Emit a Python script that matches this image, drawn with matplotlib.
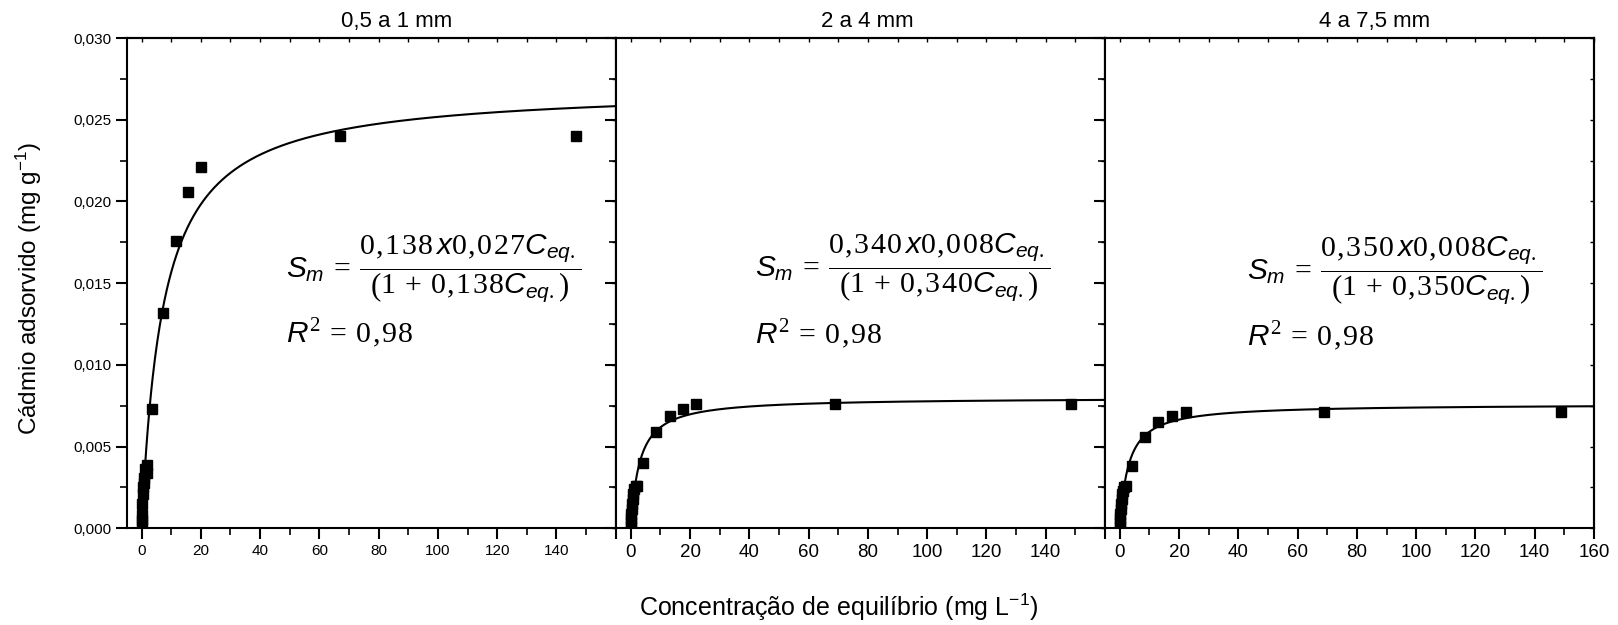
import numpy as np
import matplotlib
matplotlib.use('Agg')
import matplotlib.pyplot as plt
from matplotlib.ticker import MultipleLocator, FuncFormatter, NullLocator

plt.rcParams['font.family'] = ['Liberation Sans', 'DejaVu Sans']
plt.rcParams['mathtext.fontset'] = 'custom'
plt.rcParams['mathtext.rm'] = 'Liberation Serif'
plt.rcParams['mathtext.it'] = 'Liberation Sans:italic'
plt.rcParams['mathtext.sf'] = 'Liberation Sans'
plt.rcParams['mathtext.bf'] = 'Liberation Sans:bold'

# ---------------------------------------------------------------------------
# data
# ---------------------------------------------------------------------------
titles = ['0,5 a 1 mm', '2 a 4 mm', '4 a 7,5 mm']

# equilibrium concentration (mg L-1)
ceq_1 = [0.05, 0.1, 0.15, 0.3, 0.4, 0.5, 0.7, 0.9, 1.3, 1.8, 2.0, 3.7, 7.4, 11.7, 15.7, 20.1, 66.9, 146.7]
ceq_2 = [0.02, 0.05, 0.1, 0.2, 0.3, 0.45, 0.6, 0.8, 1.1, 1.6, 2.2, 4.1, 8.6, 13.1, 17.5, 22.1, 68.8, 148.4]
ceq_3 = [0.02, 0.05, 0.1, 0.2, 0.3, 0.45, 0.6, 0.8, 1.1, 1.5, 2.0, 4.0, 8.5, 13.0, 17.5, 22.2, 69.0, 149.0]

# cadmium adsorbed (mg g-1)
sads_1 = [0.0002, 0.0005, 0.0008, 0.0015, 0.0021, 0.0025, 0.0028, 0.0031, 0.0036, 0.0039, 0.0034,
          0.0073, 0.0132, 0.0176, 0.0206, 0.0221, 0.0240, 0.0240]
sads_2 = [0.0001, 0.0003, 0.0006, 0.0009, 0.0012, 0.0015, 0.0018, 0.0021, 0.0024, 0.0026, 0.0026,
          0.0040, 0.0059, 0.0069, 0.0073, 0.0076, 0.0076, 0.0076]
sads_3 = [0.0001, 0.0003, 0.0006, 0.0009, 0.0012, 0.0015, 0.0018, 0.0021, 0.0023, 0.0025, 0.0026,
          0.0038, 0.0056, 0.0065, 0.0069, 0.0071, 0.0071, 0.0071]

# Langmuir fit: S = K*b*C / (1 + K*C)
fit_k = [0.138, 0.340, 0.350]
fit_b = [0.0270, 0.0080, 0.0076]

eq_k_txt = ['0,138', '0,340', '0,350']
eq_b_txt = ['0,027', '0,008', '0,008']
r2_txt = ['0,98', '0,98', '0,98']

ceq = [ceq_1, ceq_2, ceq_3]
sads = [sads_1, sads_2, sads_3]


def spaced(num):
    # Origin-style letter spaced numbers for mathtext
    parts = ['{,}' if ch == ',' else ch for ch in num]
    return r'\hspace{0.06}'.join(parts)


# ---------------------------------------------------------------------------
# figure
# ---------------------------------------------------------------------------
W, H = 1618, 625
fig = plt.figure(figsize=(W / 100, H / 100), dpi=100)

ax_left = [126.7, 616, 1105]
ax_w = 489
ax_top, ax_bot = 38, 528.3

title_x = [0.553, 0.513, 0.551]
eq_pos = [(48.7, 0.0159, 0.01134), (42.0, 0.0160, 0.01132), (42.9, 0.0158, 0.01116)]
tick_fs = [11, 13.5, 13.5]

for i in range(3):
    ax = fig.add_axes([ax_left[i] / W, 1 - ax_bot / H, ax_w / W, (ax_bot - ax_top) / H])

    ax.plot(ceq[i], sads[i], 's', color='black', markersize=6.5, zorder=3)
    cc = np.linspace(0, 160, 600)
    ax.plot(cc, fit_k[i] * fit_b[i] * cc / (1 + fit_k[i] * cc), color='black', lw=1.5)

    ax.set_xlim(-5, 160)
    ax.set_ylim(0, 0.030)

    for sp in ax.spines.values():
        sp.set_linewidth(1.5)

    ax.xaxis.set_major_locator(MultipleLocator(20))
    ax.xaxis.set_minor_locator(MultipleLocator(10))
    ax.yaxis.set_major_locator(MultipleLocator(0.005))
    ax.yaxis.set_minor_locator(MultipleLocator(0.0025))
    ax.tick_params(which='major', direction='out', length=8, width=1.5,
                   labelsize=tick_fs[i], pad=3)
    ax.tick_params(which='minor', direction='out', length=5, width=1.2)

    if i < 2:
        ax.xaxis.set_major_formatter(FuncFormatter(lambda v, p: '' if v > 150 or v < 0 else f'{v:.0f}'))
    else:
        ax.xaxis.set_major_formatter(FuncFormatter(lambda v, p: '' if v < 0 else f'{v:.0f}'))

    if i == 0:
        ax.yaxis.set_major_formatter(FuncFormatter(lambda v, p: f'{v:.3f}'.replace('.', ',')))
    else:
        ax.set_yticklabels([])

    # small inward ticks on top and right
    top = ax.secondary_xaxis('top')
    top.xaxis.set_major_locator(MultipleLocator(10))
    top.xaxis.set_minor_locator(NullLocator())
    top.tick_params(direction='in', length=3, width=1.0, labeltop=False)
    top.spines['top'].set_linewidth(1.5)
    right = ax.secondary_yaxis('right')
    right.yaxis.set_major_locator(MultipleLocator(0.0025))
    right.yaxis.set_minor_locator(NullLocator())
    right.tick_params(direction='in', length=3, width=1.0, labelright=False)
    right.spines['right'].set_linewidth(1.5)

    ax.text(title_x[i], 1 + 6 / 490, titles[i], transform=ax.transAxes,
            ha='center', va='bottom', fontsize=16)

    ex, ey, ry = eq_pos[i]
    k, b = spaced(eq_k_txt[i]), spaced(eq_b_txt[i])
    formula = (r'$S_{m}\,=\,\dfrac{' + k + r'\,x' + b + r'C_{eq.}}'
               r'{\left(1\,+\,' + k + r'C_{eq.}\right)}$')
    ax.text(ex, ey, formula, ha='left', va='center', fontsize=21.5)
    ax.text(ex, ry, r'$R^{2}\,=\,' + spaced(r2_txt[i]) + '$', ha='left', va='baseline', fontsize=21.5)

fig.text(28.7 / W, 1 - 289 / H, r'Cádmio adsorvido (mg g$^{\mathsf{-1}}$)',
         rotation=90, ha='center', va='center', fontsize=17.5)
fig.text(839 / W, 1 - 607 / H, r'Concentração de equilíbrio (mg L$^{\mathsf{-1}}$)',
         ha='center', va='center', fontsize=18)

fig.savefig('out.png', dpi=100)
